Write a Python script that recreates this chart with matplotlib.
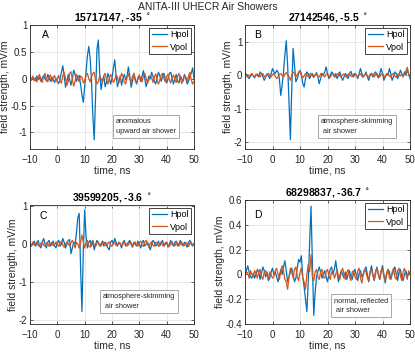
import numpy as np
import matplotlib
matplotlib.use('Agg')
import matplotlib.pyplot as plt
from matplotlib.ticker import FuncFormatter, MultipleLocator

plt.rcParams['font.family'] = ['Liberation Sans', 'DejaVu Sans']

# waveforms sampled every 0.5 ns from -10 to 50 ns (values in mV/m)
hpol_a = [0.02, -0.03, 0.03, 0.0, -0.04, 0.05, -0.02, 0.03, -0.05, 0.02,
          0.06, 0.0, -0.04, 0.08, 0.02, -0.05, 0.03, -0.02, -0.07, 0.01,
          -0.06, -0.09, 0.0, 0.12, 0.24, 0.05, -0.16, -0.05, 0.08, -0.02,
          -0.12, 0.0, 0.16, 0.08, -0.05, 0.02, 0.06, -0.1, -0.3, -0.44,
          -0.15, 0.12, 0.42, 0.6, 0.38, -0.05, -0.7, -1.14, -0.3, 0.55,
          0.72, 0.1, -0.2, -0.05, 0.05, -0.15, -0.05, 0.1, 0.02, -0.1,
          0.0, 0.2, 0.35, 0.05, -0.15, -0.05, 0.05, -0.12, 0.0, 0.08,
          -0.02, 0.05, 0.22, 0.05, -0.16, -0.05, 0.1, 0.0, -0.1, 0.0,
          0.05, -0.05, 0.05, 0.15, 0.0, -0.15, -0.05, 0.05, 0.0, 0.12,
          0.05, -0.05, -0.1, 0.02, 0.12, 0.05, -0.05, 0.05, 0.1, 0.0,
          -0.08, 0.0, 0.1, 0.12, 0.0, -0.1, 0.0, 0.08, -0.05, -0.08,
          0.05, 0.0, -0.05, 0.08, 0.0, -0.1, -0.05, 0.05, 0.1, 0.2,
          0.0]
vpol_a = [0.03, -0.02, 0.05, -0.04, 0.02, -0.06, 0.04, 0.08, -0.03, -0.07,
          0.05, 0.1, -0.02, -0.06, 0.04, 0.07, -0.05, 0.02, 0.06, -0.04,
          0.0, 0.06, -0.05, -0.08, 0.05, 0.12, 0.0, -0.12, -0.05, 0.1,
          0.13, -0.02, -0.14, -0.05, 0.08, 0.02, -0.06, 0.05, 0.03, -0.08,
          -0.03, 0.06, 0.1, 0.0, -0.06, 0.04, 0.1, 0.12, -0.02, -0.1,
          -0.05, 0.05, 0.0, -0.06, 0.06, 0.1, -0.02, -0.1, 0.0, 0.08,
          0.02, -0.07, -0.02, 0.07, 0.03, -0.08, 0.0, 0.1, 0.04, -0.06,
          -0.1, 0.02, 0.09, 0.0, -0.07, 0.05, 0.08, -0.04, -0.09, 0.02,
          0.07, -0.02, -0.06, 0.05, 0.1, 0.0, -0.08, -0.03, 0.06, 0.02,
          -0.07, 0.03, 0.09, -0.02, -0.1, -0.03, 0.07, 0.1, 0.0, -0.06,
          0.04, 0.08, -0.03, -0.08, 0.02, 0.07, -0.02, -0.07, 0.04, 0.1,
          0.0, -0.09, -0.02, 0.06, 0.03, -0.05, 0.05, 0.12, -0.02, -0.1,
          -0.05]

hpol_b = [0.08, 0.02, -0.05, -0.1, -0.03, 0.05, -0.02, -0.08, 0.03, 0.0,
          -0.05, 0.1, 0.05, -0.05, -0.15, -0.05, 0.05, -0.02, -0.1, 0.05,
          0.2, 0.1, 0.05, 0.15, 0.1, -0.1, -0.6, -0.3, 0.1, 0.6,
          1.03, 0.3, -0.8, -1.92, -0.4, 0.8, 0.3, -0.2, -0.1, 0.05,
          0.15, 0.05, -0.25, -0.35, -0.1, 0.1, 0.05, -0.1, 0.0, 0.05,
          -0.05, 0.0, 0.08, -0.05, -0.25, -0.1, 0.05, 0.0, 0.1, 0.25,
          0.05, -0.1, 0.0, 0.1, 0.05, -0.05, 0.05, -0.1, 0.0, 0.1,
          -0.05, -0.15, -0.05, 0.05, 0.0, -0.1, 0.05, 0.12, 0.0, -0.05,
          0.05, 0.0, -0.1, 0.05, 0.2, 0.05, -0.05, 0.0, 0.1, -0.05,
          -0.15, 0.0, 0.05, -0.05, 0.05, 0.1, 0.0, -0.08, 0.05, 0.2,
          0.05, -0.15, -0.05, 0.05, 0.0, 0.2, 0.05, -0.15, -0.05, 0.1,
          0.05, -0.1, 0.0, 0.15, 0.05, -0.05, 0.1, 0.0, 0.15, 0.05,
          -0.1]
vpol_b = [0.03, -0.03, 0.02, -0.04, 0.02, 0.05, -0.02, -0.05, 0.02, 0.04,
          -0.02, -0.05, 0.03, 0.05, -0.03, -0.05, 0.02, 0.06, 0.0, -0.05,
          0.02, 0.05, -0.03, -0.1, -0.05, 0.03, 0.05, 0.0, -0.05, 0.03,
          0.08, 0.02, -0.05, -0.15, 0.0, 0.1, 0.05, -0.05, 0.02, 0.1,
          0.12, 0.0, -0.08, -0.02, 0.05, 0.02, -0.05, 0.03, 0.06, -0.02,
          -0.06, 0.02, 0.05, -0.03, -0.05, 0.04, 0.06, -0.02, -0.05, 0.03,
          0.05, -0.03, -0.06, 0.02, 0.05, 0.0, -0.05, 0.03, 0.06, -0.02,
          -0.05, 0.02, 0.04, -0.03, -0.06, 0.03, 0.05, -0.02, -0.04, 0.03,
          0.06, 0.0, -0.05, 0.02, 0.05, -0.03, -0.06, 0.02, 0.04, -0.02,
          -0.05, 0.03, 0.06, -0.01, -0.05, 0.02, 0.05, -0.03, -0.05, 0.03,
          0.05, -0.02, -0.06, 0.03, 0.06, -0.02, -0.05, 0.03, 0.05, -0.03,
          -0.06, 0.02, 0.05, -0.02, 0.03, -0.03, 0.05, 0.12, 0.24, 0.05,
          -0.05]

hpol_c = [0.05, -0.05, 0.02, 0.08, -0.05, 0.0, 0.1, -0.05, -0.1, 0.05,
          0.15, 0.0, -0.1, 0.05, 0.1, -0.05, 0.0, 0.08, -0.05, -0.1,
          0.05, 0.1, -0.05, 0.0, 0.15, 0.05, -0.1, 0.0, 0.1, 0.12,
          -0.25, -0.1, 0.05, 0.0, 0.3, 0.7, 0.81, -0.6, -1.77, -0.2,
          0.9, 0.2, -0.1, 0.05, 0.1, -0.05, 0.1, -0.15, 0.0, 0.1,
          0.05, -0.05, 0.0, 0.08, -0.05, 0.05, 0.0, -0.1, -0.15, 0.05,
          0.1, 0.0, 0.15, 0.05, -0.05, 0.05, 0.0, -0.1, 0.05, 0.1,
          -0.05, 0.0, 0.05, 0.1, 0.0, -0.08, 0.05, 0.0, -0.05, 0.08,
          0.0, -0.1, 0.05, 0.1, -0.05, 0.0, 0.05, -0.05, -0.15, 0.0,
          0.1, 0.05, -0.05, 0.0, 0.08, -0.05, 0.05, 0.1, -0.05, 0.0,
          0.05, -0.08, 0.0, 0.1, 0.0, -0.05, 0.05, 0.08, -0.05, 0.0,
          0.1, 0.0, -0.05, 0.05, 0.0, -0.08, 0.05, 0.1, 0.0, -0.05,
          0.02]
vpol_c = [0.02, -0.05, 0.05, -0.03, 0.0, 0.06, -0.04, -0.06, 0.03, 0.05,
          -0.03, -0.05, 0.04, 0.02, -0.06, 0.0, 0.05, -0.04, -0.02, 0.06,
          0.0, -0.06, 0.03, 0.08, -0.02, -0.08, 0.0, 0.06, 0.02, -0.05,
          0.04, 0.1, 0.0, -0.1, 0.05, 0.0, -0.1, 0.05, 0.24, 0.05,
          -0.1, 0.05, 0.1, -0.05, -0.08, 0.05, 0.08, -0.03, -0.06, 0.03,
          0.06, -0.04, -0.05, 0.04, 0.06, -0.03, -0.05, 0.03, 0.06, -0.02,
          -0.06, 0.02, 0.05, -0.04, -0.03, 0.05, 0.03, -0.06, 0.0, 0.06,
          0.02, -0.05, -0.02, 0.05, 0.04, -0.05, 0.0, 0.06, -0.03, -0.05,
          0.04, 0.08, -0.02, -0.06, 0.05, 0.1, 0.0, -0.08, 0.03, 0.06,
          -0.04, -0.05, 0.05, 0.03, -0.06, 0.0, 0.06, -0.03, -0.05, 0.04,
          0.05, -0.03, -0.06, 0.02, 0.06, -0.02, -0.05, 0.04, 0.03, -0.05,
          0.0, 0.06, -0.03, -0.04, 0.05, 0.02, -0.06, 0.03, 0.05, -0.03,
          0.0]

hpol_d = [0.0, 0.03, 0.07, 0.02, -0.02, -0.03, 0.01, -0.03, 0.0, 0.04,
          0.02, -0.04, 0.01, 0.06, 0.03, -0.02, 0.02, -0.05, -0.03, 0.02,
          0.05, 0.0, 0.02, -0.02, -0.06, -0.01, 0.04, 0.0, 0.06, 0.11,
          0.03, -0.06, -0.02, 0.02, 0.05, 0.0, -0.06, -0.03, 0.05, 0.12,
          0.1, 0.15, -0.02, -0.1, -0.2, -0.3, -0.05, 0.25, 0.55, 0.1,
          -0.33, -0.15, -0.02, 0.02, 0.06, 0.02, -0.03, 0.0, 0.03, -0.02,
          -0.06, 0.0, 0.04, 0.06, 0.0, 0.04, 0.11, 0.02, -0.06, -0.01,
          0.03, 0.0, -0.03, 0.02, -0.04, 0.0, 0.03, -0.02, -0.04, 0.02,
          0.04, -0.01, -0.05, 0.01, 0.03, -0.02, 0.0, 0.04, 0.06, 0.0,
          -0.06, 0.02, 0.07, 0.0, -0.05, 0.01, 0.06, 0.0, -0.04, 0.03,
          0.07, 0.0, -0.07, 0.0, 0.04, 0.02, -0.04, 0.0, 0.03, 0.06,
          0.0, -0.05, 0.02, 0.04, -0.02, -0.05, 0.0, 0.03, -0.02, 0.01,
          0.0]
vpol_d = [-0.02, 0.02, 0.01, -0.03, 0.03, 0.0, -0.02, 0.03, 0.01, -0.03,
          0.02, 0.04, -0.02, -0.04, 0.02, 0.03, -0.01, -0.03, 0.02, 0.0,
          -0.03, -0.02, 0.03, 0.05, 0.0, -0.04, 0.02, 0.07, 0.03, -0.04,
          -0.06, -0.12, -0.02, 0.05, 0.02, -0.03, 0.04, 0.06, -0.02, -0.05,
          0.02, 0.05, -0.03, -0.06, -0.12, 0.0, 0.08, 0.02, 0.16, -0.02,
          -0.05, 0.02, 0.04, -0.02, -0.04, 0.02, 0.04, -0.02, -0.03, 0.02,
          0.04, -0.01, -0.04, 0.02, 0.03, -0.03, 0.0, 0.04, -0.02, -0.04,
          0.02, 0.05, 0.0, -0.04, 0.01, 0.04, -0.02, -0.05, 0.02, 0.03,
          -0.02, -0.04, 0.03, 0.05, -0.03, -0.07, 0.0, 0.04, 0.02, -0.03,
          -0.05, 0.02, 0.04, -0.01, -0.04, 0.03, 0.05, 0.0, -0.04, 0.02,
          0.05, -0.02, -0.05, 0.01, 0.04, -0.03, -0.04, 0.02, 0.05, -0.02,
          -0.04, 0.03, 0.05, -0.01, -0.05, 0.02, 0.05, 0.0, -0.04, 0.03,
          0.0]

titles = ['15717147, -35', '27142546, -5.5', '39599205, -3.6', '68298837, -36.7']
letters = ['A', 'B', 'C', 'D']
notes = ['anomalous\nupward air shower', 'atmosphere-skimming\n air shower',
         'atmosphere-skimming\n air shower', 'normal, reflected\n air shower']
ylims = [(-1.31, 1.0), (-2.2, 1.5), (-2.1, 1.03), (-0.4, 0.6)]
ysteps = [0.5, 1, 1, 0.2]

# axes boxes in pixels: left, top, right, bottom
W, H = 415, 353
boxes = [(30, 25, 194, 149), (245, 25, 410, 149),
         (30, 205, 194, 324), (245, 200, 410, 324)]
note_pos = [(116, 118), (321, 118), (103, 293), (334, 297)]
letter_pos = [(45, 35), (258, 35), (43, 216), (258, 215)]

blue = '#0072BD'
orange = '#D95319'

fig = plt.figure(figsize=(W / 100, H / 100), dpi=100)
fig.text(0.5, 1 - 2 / H, 'ANITA-III UHECR Air Showers', ha='center', va='top',
         fontsize=7.5, color='#262626')

data = [(hpol_a, vpol_a), (hpol_b, vpol_b), (hpol_c, vpol_c), (hpol_d, vpol_d)]
for i in range(4):
    l, t, r, b = boxes[i]
    ax = fig.add_axes([l / W, 1 - b / H, (r - l) / W, (b - t) / H])
    hp, vp = data[i]
    th = np.linspace(-10, 50, len(hp))
    tv = np.linspace(-10, 50, len(vp))
    ax.plot(th, hp, color=blue, lw=0.9, label='Hpol')
    ax.plot(tv, vp, color=orange, lw=0.9, label='Vpol')
    ax.set_xlim(-10, 50)
    ax.set_ylim(*ylims[i])
    ax.set_xticks([-10, 0, 10, 20, 30, 40, 50])
    ax.yaxis.set_major_locator(MultipleLocator(ysteps[i]))
    ax.yaxis.set_major_formatter(FuncFormatter(lambda v, p: '%g' % round(v, 3)))
    ax.grid(True, color='#e3e3e3', lw=0.6)
    ax.set_axisbelow(True)
    ax.tick_params(direction='in', length=2.5, width=0.5, labelsize=7,
                   colors='#262626', top=True, right=True, pad=2)
    ax.tick_params(axis='x', pad=4)
    for s in ax.spines.values():
        s.set_linewidth(0.6)
        s.set_color('#262626')
    ax.set_xlabel('time, ns', fontsize=7.5, color='#262626', labelpad=1)
    ax.set_ylabel('field strength, mV/m', fontsize=7.5, color='#262626', labelpad=0.5)
    ax.set_title(titles[i] + r' $^\circ$', fontsize=7.5, fontweight='bold', pad=3)
    lx, ly = letter_pos[i]
    fig.text(lx / W, 1 - ly / H, letters[i], fontsize=7.5, ha='center', va='center')
    leg = ax.legend(loc='upper right', fontsize=6.5, handlelength=1.7,
                    borderaxespad=0.3, borderpad=0.3, labelspacing=0.35,
                    handletextpad=0.3, fancybox=False, framealpha=1)
    leg.get_frame().set_edgecolor('#262626')
    leg.get_frame().set_linewidth(0.6)
    nx, ny = note_pos[i]
    fig.text(nx / W, 1 - ny / H, notes[i], ha='left', va='top', fontsize=5.3,
             linespacing=1.6, color='#262626',
             bbox=dict(boxstyle='square,pad=0.4', fc='white', ec='#999999', lw=0.6))

fig.savefig('out.png', dpi=100)
